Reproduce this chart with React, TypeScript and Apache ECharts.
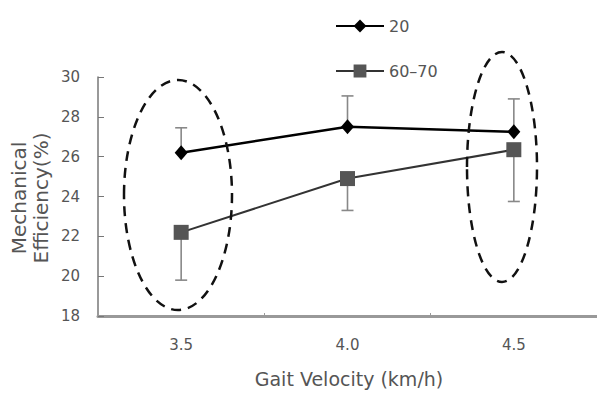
import React, { useEffect, useRef } from "react";
import * as echarts from "echarts";

const categories = ["3.5", "4.0", "4.5"];
const seriesNames = ["20", "60–70"];
const mean20 = [26.2, 27.5, 27.25];
const sd20 = [1.25, 1.55, 1.65];
const mean6070 = [22.2, 24.9, 26.35];
const sd6070 = [2.4, 1.6, 2.6];
const yTicks = [18, 20, 22, 24, 26, 28, 30];
const xTitle = "Gait Velocity (km/h)";
const yTitle = "Mechanical\nEfficiency(%)";

const FONT = "DejaVu Sans, Verdana, sans-serif";

function errorSeries(means: number[], sds: number[], dir: number) {
  return {
    type: "custom",
    silent: true,
    z: 1,
    data: means.map((m, i) => [i, m, m + dir * sds[i]]),
    renderItem: (params: any, api: any) => {
      const p0 = api.coord([api.value(0), api.value(1)]);
      const p1 = api.coord([api.value(0), api.value(2)]);
      const cap = 6;
      const st = { stroke: "#888", lineWidth: 1.6 };
      return {
        type: "group",
        children: [
          { type: "line", shape: { x1: p0[0], y1: p0[1], x2: p1[0], y2: p1[1] }, style: st },
          { type: "line", shape: { x1: p1[0] - cap, y1: p1[1], x2: p1[0] + cap, y2: p1[1] }, style: st },
        ],
      };
    },
  };
}

export default function App() {
  const ref = useRef<HTMLDivElement>(null);
  useEffect(() => {
    const chart = echarts.init(ref.current!, null, { renderer: "svg" });
    chart.setOption({
      animation: false,
      backgroundColor: "#fff",
      textStyle: { fontFamily: FONT },
      legend: {
        orient: "vertical",
        left: 330,
        top: 13,
        itemGap: 29,
        itemWidth: 48,
        itemHeight: 16,
        textStyle: { fontSize: 16, color: "#555", fontFamily: FONT },
        data: seriesNames,
      },
      grid: { left: 98, right: -2, top: 77, bottom: 78 },
      xAxis: {
        type: "category",
        data: categories,
        boundaryGap: true,
        axisLine: { lineStyle: { color: "#999", width: 3 } },
        axisTick: { show: true, inside: true, length: 3, lineStyle: { color: "#999" } },
        axisLabel: { fontSize: 15, color: "#555", margin: 21, fontFamily: FONT },
      },
      yAxis: {
        type: "value",
        min: yTicks[0],
        max: yTicks[yTicks.length - 1],
        interval: 2,
        splitLine: { show: false },
        axisLine: { show: true, lineStyle: { color: "#777", width: 1.5 } },
        axisTick: { show: true, inside: true, length: 6, lineStyle: { color: "#777" } },
        axisLabel: { fontSize: 15, color: "#555", margin: 18, fontFamily: FONT },
      },
      graphic: [
        {
          type: "text",
          x: 349,
          y: 379,
          style: {
            text: xTitle,
            fontSize: 19,
            fontFamily: FONT,
            fill: "#555",
            textAlign: "center",
            textVerticalAlign: "middle",
          },
        },
        {
          type: "text",
          x: 30,
          y: 198,
          rotation: Math.PI / 2,
          style: {
            text: yTitle,
            fontSize: 20,
            lineHeight: 22,
            fontFamily: FONT,
            fill: "#555",
            textAlign: "center",
            textVerticalAlign: "middle",
          },
        },
        {
          type: "ellipse",
          shape: { cx: 178, cy: 195, rx: 54, ry: 115 },
          style: { fill: "none", stroke: "#111", lineWidth: 2.5, lineDash: [10, 7] },
          z: 10,
        },
        {
          type: "ellipse",
          shape: { cx: 502, cy: 167, rx: 35, ry: 115 },
          style: { fill: "none", stroke: "#111", lineWidth: 2.5, lineDash: [10, 7] },
          z: 10,
        },
      ],
      series: [
        errorSeries(mean20, sd20, 1),
        errorSeries(mean6070, sd6070, -1),
        {
          name: seriesNames[0],
          type: "line",
          data: mean20,
          symbol: "diamond",
          symbolSize: [13, 15],
          itemStyle: { color: "#000" },
          lineStyle: { color: "#000", width: 2.5 },
          z: 3,
        },
        {
          name: seriesNames[1],
          type: "line",
          data: mean6070,
          symbol: "rect",
          symbolSize: 15,
          itemStyle: { color: "#555" },
          lineStyle: { color: "#333", width: 2 },
          z: 3,
        },
      ],
    });
    return () => chart.dispose();
  }, []);
  return (
    <div
      ref={ref}
      style={{ position: "fixed", left: 0, top: 0, width: 597, height: 394 }}
    />
  );
}
